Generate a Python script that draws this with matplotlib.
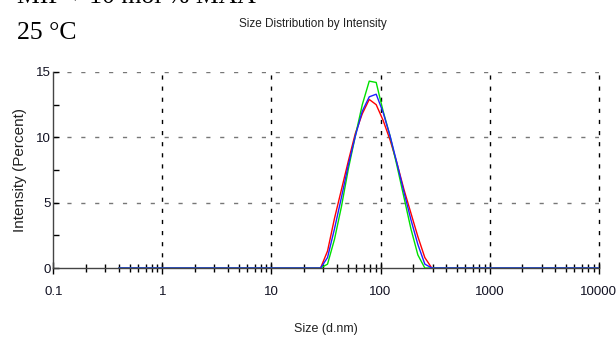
import numpy as np
import matplotlib
matplotlib.use("Agg")
import matplotlib.pyplot as plt
from matplotlib.ticker import FixedLocator, NullFormatter

# size bins (d.nm) and intensity (%) for the three runs
sizes = [0.4, 24.36, 28.21, 32.67, 37.84, 43.82, 50.75, 58.77, 68.06, 78.82,
         91.28, 105.7, 122.4, 141.8, 164.2, 190.1, 220.2, 255.0, 295.3, 10000]
red = [0, 0, 0, 1.3, 3.8, 6.0, 8.2, 10.3, 11.8, 12.9,
       12.5, 11.3, 9.8, 8.0, 6.0, 4.2, 2.4, 0.8, 0, 0]
green = [0, 0, 0, 0.3, 2.2, 4.7, 7.6, 10.1, 12.5, 14.3,
         14.2, 12.0, 10.1, 7.8, 5.4, 3.0, 1.0, 0, 0, 0]
blue = [0, 0, 0, 0.8, 3.0, 5.4, 7.9, 10.1, 12.0, 13.1,
        13.3, 11.9, 10.1, 8.0, 5.8, 3.7, 1.8, 0.3, 0, 0]

xticks = [0.1, 1, 10, 100, 1000, 10000]
xticklabels = ["0.1", "1", "10", "100", "1000", "10000"]
yticks = [0, 5, 10, 15]

sans = "Liberation Sans"

fig = plt.figure(figsize=(6.16, 3.38), dpi=100)
ax = fig.add_axes([0.0867, 0.207, 0.885, 0.58])

ax.plot(sizes, red, color="#ff0000", lw=1.0, zorder=3)
ax.plot(sizes, green, color="#00e000", lw=1.0, zorder=3)
ax.plot(sizes, blue, color="#2020ff", lw=1.0, zorder=4)

ax.set_xscale("log")
ax.set_xlim(0.1, 10000)
ax.set_ylim(0, 15)

# grid: dashed verticals at decades, dotted gray horizontals
for xv in xticks[1:]:
    ax.axvline(xv, color="black", lw=1.0, ls=(0, (3, 5)), zorder=1,
               clip_on=False)
for yv in yticks[1:]:
    ax.axhline(yv, color="#777777", lw=1.0, ls=(0, (3, 7)), zorder=1)

for s in ["top", "right"]:
    ax.spines[s].set_visible(False)
for s in ["left", "bottom"]:
    ax.spines[s].set_color("#444444")
    ax.spines[s].set_linewidth(1.0)

ax.xaxis.set_major_locator(FixedLocator(xticks))
ax.set_xticklabels(xticklabels)
minor = [m * 10.0 ** e for e in range(-1, 4) for m in range(2, 10)]
ax.xaxis.set_minor_locator(FixedLocator(minor))
ax.xaxis.set_minor_formatter(NullFormatter())
ax.tick_params(axis="x", which="minor", direction="inout", length=6, width=1.0,
               color="black")
ax.tick_params(axis="x", which="major", direction="inout", length=8,
               width=1.0, color="black", pad=9)

ax.yaxis.set_major_locator(FixedLocator(yticks))
ax.yaxis.set_minor_locator(FixedLocator([2.5, 7.5, 12.5]))
ax.tick_params(axis="y", which="both", direction="in", length=4, width=1.0,
               color="black", pad=2)

for lab in ax.get_xticklabels() + ax.get_yticklabels():
    lab.set_fontfamily(sans)
    lab.set_fontsize(9.5)
    lab.set_color("#111122")

ax.set_xlabel("Size (d.nm)", fontfamily=sans, fontsize=9, labelpad=18,
              color="#222222")
ax.set_ylabel("Intensity (Percent)", fontfamily=sans, fontsize=11,
              labelpad=6, color="#222222")

fig.text(0.508, 0.93, "Size Distribution by Intensity", ha="center",
         va="center", fontfamily=sans, fontsize=8.5, color="#222222")
fig.text(0.028, 0.99, "MIP + 10 mol % MAA", ha="left", va="baseline",
         fontfamily="Liberation Serif", fontsize=18.5)
fig.text(0.028, 0.885, "25 °C", ha="left", va="baseline",
         fontfamily="Liberation Serif", fontsize=18.5)

fig.savefig("out.png", dpi=100)
